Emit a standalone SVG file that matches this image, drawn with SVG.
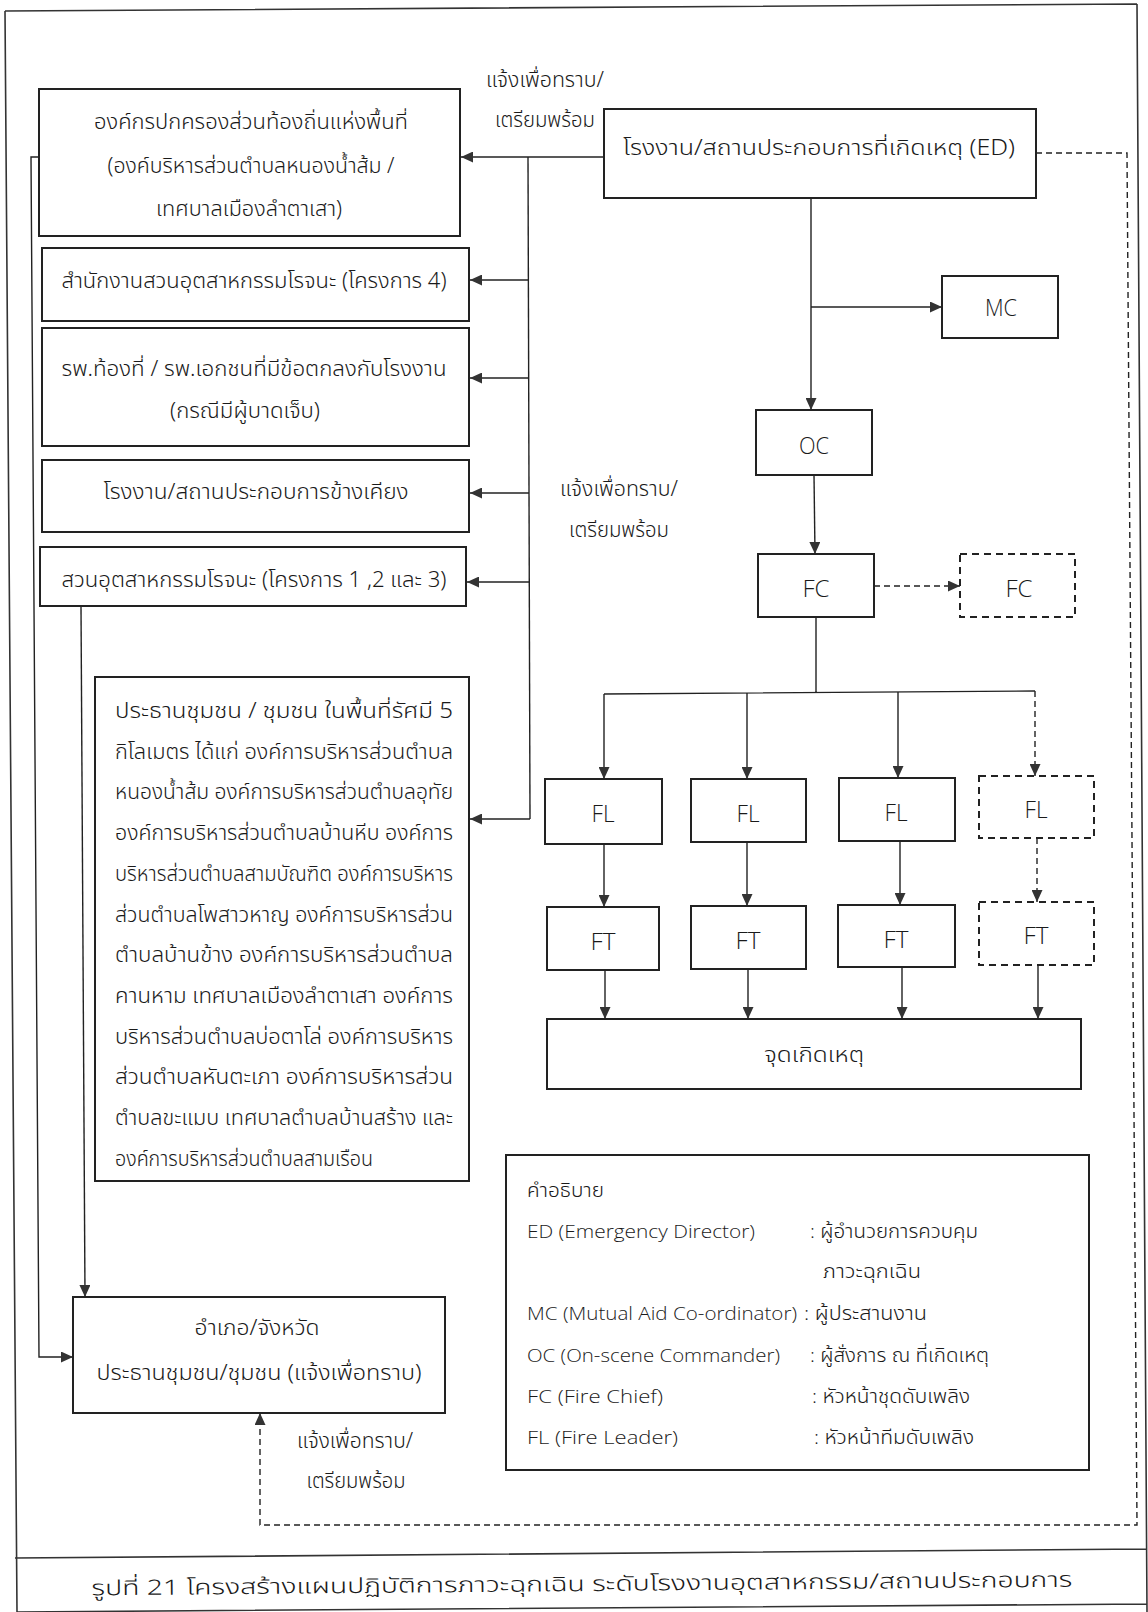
<svg xmlns="http://www.w3.org/2000/svg" width="1148" height="1612" viewBox="0 0 1148 1612">
<style>
.box{fill:#fff;stroke:#222;stroke-width:2}
.dbox{fill:#fff;stroke:#222;stroke-width:2;stroke-dasharray:7 5}
.ln{fill:none;stroke:#222;stroke-width:1.4}
.dl{fill:none;stroke:#222;stroke-width:1.4;stroke-dasharray:6 4}
.fr{fill:none;stroke:#333;stroke-width:1.6}
text{fill:#1a1a1a}
.th{font-family:'Noto Sans Thai','Noto Sans','DejaVu Sans',sans-serif;font-size:21px;font-weight:300}
.lt{font-family:'Open Sans','Noto Sans',sans-serif;font-weight:300;font-size:24px}
.lg{font-family:'Open Sans','Noto Sans Thai','Noto Sans',sans-serif;font-size:19px;font-weight:300}
.c{text-anchor:middle}
</style>
<defs>
<marker id="ah" markerUnits="userSpaceOnUse" markerWidth="13" markerHeight="11" refX="12" refY="5.5" orient="auto">
<path d="M0,0 L12,5.5 L0,11 z" fill="#333"/>
</marker>
</defs>
<rect x="0" y="0" width="1148" height="1612" fill="#fff"/>
<g id="frame">
<path class="fr" d="M5,11 L1137,4 M5,11 L17,1612 M1137,4 L1147,1612 M15,1558 L1147,1549 M17,1612 L1147,1604"/>
<text class="th" x="582" y="1591" text-anchor="middle" font-size="26" textLength="981" lengthAdjust="spacingAndGlyphs" transform="rotate(-0.5 582 1591)">รูปที่ 21 โครงสร้างแผนปฏิบัติการภาวะฉุกเฉิน ระดับโรงงานอุตสาหกรรม/สถานประกอบการ</text>
</g>
<g id="connectors">
<path class="ln" d="M604,157 L461,157" marker-end="url(#ah)"/>
<path class="ln" d="M528,157 L530,819"/>
<path class="ln" d="M528,280 L470,280" marker-end="url(#ah)"/>
<path class="ln" d="M528,378 L470,378" marker-end="url(#ah)"/>
<path class="ln" d="M529,493 L470,493" marker-end="url(#ah)"/>
<path class="ln" d="M529,582 L467,582" marker-end="url(#ah)"/>
<path class="ln" d="M530,819 L470,819" marker-end="url(#ah)"/>
<path class="ln" d="M811,198 L811,410" marker-end="url(#ah)"/>
<path class="ln" d="M811,307 L942,307" marker-end="url(#ah)"/>
<path class="ln" d="M814,475 L815,554" marker-end="url(#ah)"/>
<path class="dl" d="M874,586 L960,586" marker-end="url(#ah)"/>
<path class="ln" d="M816,617 L816,693 M604,694 L1035,691"/>
<path class="ln" d="M604,694 L604,779" marker-end="url(#ah)"/>
<path class="ln" d="M747,693 L747,779" marker-end="url(#ah)"/>
<path class="ln" d="M898,692 L898,778" marker-end="url(#ah)"/>
<path class="dl" d="M1035,691 L1035,776" marker-end="url(#ah)"/>
<path class="ln" d="M604,844 L604,907" marker-end="url(#ah)"/>
<path class="ln" d="M747,842 L747,906" marker-end="url(#ah)"/>
<path class="ln" d="M900,841 L900,905" marker-end="url(#ah)"/>
<path class="dl" d="M1037,838 L1037,902" marker-end="url(#ah)"/>
<path class="ln" d="M605,970 L605,1019" marker-end="url(#ah)"/>
<path class="ln" d="M748,969 L748,1019" marker-end="url(#ah)"/>
<path class="ln" d="M902,967 L902,1019" marker-end="url(#ah)"/>
<path class="ln" d="M1038,965 L1038,1019" marker-end="url(#ah)"/>
<path class="ln" d="M39,157 L31,157 L39,1357 L73,1357" marker-end="url(#ah)"/>
<path class="ln" d="M81,606 L85,1297" marker-end="url(#ah)"/>
<path class="dl" d="M1036,153 L1127,153 L1137,1525 L260,1525 L260,1413" marker-end="url(#ah)"/>
<text class="th" x="545" y="87" text-anchor="middle" textLength="118" lengthAdjust="spacingAndGlyphs">แจ้งเพื่อทราบ/</text>
<text class="th" x="545" y="127" text-anchor="middle" textLength="100" lengthAdjust="spacingAndGlyphs">เตรียมพร้อม</text>
<text class="th" x="619" y="496" text-anchor="middle" textLength="118" lengthAdjust="spacingAndGlyphs">แจ้งเพื่อทราบ/</text>
<text class="th" x="619" y="537" text-anchor="middle" textLength="100" lengthAdjust="spacingAndGlyphs">เตรียมพร้อม</text>
<text class="th" x="355" y="1448" text-anchor="middle" textLength="116" lengthAdjust="spacingAndGlyphs">แจ้งเพื่อทราบ/</text>
<text class="th" x="356" y="1488" text-anchor="middle" textLength="99" lengthAdjust="spacingAndGlyphs">เตรียมพร้อม</text>
</g>
<g id="n-local-gov">
<rect class="box" x="39" y="89" width="421" height="147"/>
<text class="th c" x="251" y="129" textLength="314" lengthAdjust="spacingAndGlyphs">องค์กรปกครองส่วนท้องถิ่นแห่งพื้นที่</text>
<text class="th c" x="251" y="173" textLength="287" lengthAdjust="spacingAndGlyphs">(องค์บริหารส่วนตำบลหนองน้ำส้ม /</text>
<text class="th c" x="249" y="216" textLength="186" lengthAdjust="spacingAndGlyphs">เทศบาลเมืองลำตาเสา)</text>
</g>
<g id="n-rojana-office">
<rect class="box" x="42" y="248" width="427" height="73"/>
<text class="th c" x="254" y="288" textLength="385" lengthAdjust="spacingAndGlyphs">สำนักงานสวนอุตสาหกรรมโรจนะ (โครงการ 4)</text>
</g>
<g id="n-hospital">
<rect class="box" x="42" y="328" width="427" height="118"/>
<text class="th c" x="254" y="376" textLength="385" lengthAdjust="spacingAndGlyphs">รพ.ท้องที่ / รพ.เอกชนที่มีข้อตกลงกับโรงงาน</text>
<text class="th c" x="245" y="418" textLength="150" lengthAdjust="spacingAndGlyphs">(กรณีมีผู้บาดเจ็บ)</text>
</g>
<g id="n-neighbour">
<rect class="box" x="42" y="460" width="427" height="72"/>
<text class="th c" x="256" y="499" textLength="305" lengthAdjust="spacingAndGlyphs">โรงงาน/สถานประกอบการข้างเคียง</text>
</g>
<g id="n-rojana-park">
<rect class="box" x="40" y="547" width="426" height="59"/>
<text class="th c" x="254" y="587" textLength="385" lengthAdjust="spacingAndGlyphs">สวนอุตสาหกรรมโรจนะ (โครงการ 1 ,2 และ 3)</text>
</g>
<g id="n-community">
<rect class="box" x="95" y="677" width="374" height="504"/>
<g class="th">
<text x="115" y="718" textLength="338" lengthAdjust="spacingAndGlyphs">ประธานชุมชน / ชุมชน ในพื้นที่รัศมี 5</text>
<text x="115" y="759" textLength="338" lengthAdjust="spacingAndGlyphs">กิโลเมตร ได้แก่ องค์การบริหารส่วนตำบล</text>
<text x="115" y="799" textLength="338" lengthAdjust="spacingAndGlyphs">หนองน้ำส้ม องค์การบริหารส่วนตำบลอุทัย</text>
<text x="115" y="840" textLength="338" lengthAdjust="spacingAndGlyphs">องค์การบริหารส่วนตำบลบ้านหีบ องค์การ</text>
<text x="115" y="881" textLength="338" lengthAdjust="spacingAndGlyphs">บริหารส่วนตำบลสามบัณฑิต องค์การบริหาร</text>
<text x="115" y="922" textLength="338" lengthAdjust="spacingAndGlyphs">ส่วนตำบลโพสาวหาญ องค์การบริหารส่วน</text>
<text x="115" y="962" textLength="338" lengthAdjust="spacingAndGlyphs">ตำบลบ้านข้าง องค์การบริหารส่วนตำบล</text>
<text x="115" y="1003" textLength="338" lengthAdjust="spacingAndGlyphs">คานหาม เทศบาลเมืองลำตาเสา องค์การ</text>
<text x="115" y="1044" textLength="338" lengthAdjust="spacingAndGlyphs">บริหารส่วนตำบลบ่อตาโล่ องค์การบริหาร</text>
<text x="115" y="1084" textLength="338" lengthAdjust="spacingAndGlyphs">ส่วนตำบลหันตะเภา องค์การบริหารส่วน</text>
<text x="115" y="1125" textLength="338" lengthAdjust="spacingAndGlyphs">ตำบลขะแมบ เทศบาลตำบลบ้านสร้าง และ</text>
<text x="115" y="1166" textLength="258" lengthAdjust="spacingAndGlyphs">องค์การบริหารส่วนตำบลสามเรือน</text>
</g>
</g>
<g id="n-district">
<rect class="box" x="73" y="1297" width="372" height="116"/>
<text class="th c" x="257" y="1335" textLength="125" lengthAdjust="spacingAndGlyphs">อำเภอ/จังหวัด</text>
<text class="th c" x="259" y="1380" textLength="325" lengthAdjust="spacingAndGlyphs">ประธานชุมชน/ชุมชน (แจ้งเพื่อทราบ)</text>
</g>
<g id="n-ed">
<rect class="box" x="604" y="109" width="432" height="89"/>
<text class="th c" x="819" y="155" textLength="392" lengthAdjust="spacingAndGlyphs">โรงงาน/สถานประกอบการที่เกิดเหตุ (ED)</text>
</g>
<g id="n-mc">
<rect class="box" x="942" y="276" width="116" height="62"/>
<text class="lt c" x="1001" y="316" textLength="32" lengthAdjust="spacingAndGlyphs">MC</text>
</g>
<g id="n-oc">
<rect class="box" x="756" y="410" width="116" height="65"/>
<text class="lt c" x="814" y="454" textLength="30" lengthAdjust="spacingAndGlyphs">OC</text>
</g>
<g id="n-fc">
<rect class="box" x="758" y="554" width="116" height="63"/>
<text class="lt c" x="816" y="597" textLength="27" lengthAdjust="spacingAndGlyphs">FC</text>
</g>
<g id="n-fc2">
<rect class="dbox" x="960" y="554" width="115" height="63"/>
<text class="lt c" x="1019" y="597" textLength="27" lengthAdjust="spacingAndGlyphs">FC</text>
</g>
<g id="n-fl1"><rect class="box" x="545" y="779" width="117" height="65"/><text class="lt c" x="603" y="822" textLength="23" lengthAdjust="spacingAndGlyphs">FL</text></g>
<g id="n-fl2"><rect class="box" x="691" y="779" width="115" height="63"/><text class="lt c" x="748" y="822" textLength="23" lengthAdjust="spacingAndGlyphs">FL</text></g>
<g id="n-fl3"><rect class="box" x="839" y="778" width="116" height="63"/><text class="lt c" x="896" y="821" textLength="23" lengthAdjust="spacingAndGlyphs">FL</text></g>
<g id="n-fl4"><rect class="dbox" x="979" y="776" width="115" height="62"/><text class="lt c" x="1036" y="818" textLength="23" lengthAdjust="spacingAndGlyphs">FL</text></g>
<g id="n-ft1"><rect class="box" x="547" y="907" width="112" height="63"/><text class="lt c" x="603" y="950" textLength="25" lengthAdjust="spacingAndGlyphs">FT</text></g>
<g id="n-ft2"><rect class="box" x="691" y="906" width="115" height="63"/><text class="lt c" x="748" y="949" textLength="25" lengthAdjust="spacingAndGlyphs">FT</text></g>
<g id="n-ft3"><rect class="box" x="838" y="905" width="117" height="62"/><text class="lt c" x="896" y="948" textLength="25" lengthAdjust="spacingAndGlyphs">FT</text></g>
<g id="n-ft4"><rect class="dbox" x="979" y="902" width="115" height="63"/><text class="lt c" x="1036" y="944" textLength="25" lengthAdjust="spacingAndGlyphs">FT</text></g>
<g id="n-incident">
<rect class="box" x="547" y="1019" width="534" height="70"/>
<text class="th c" x="814" y="1062" textLength="100" lengthAdjust="spacingAndGlyphs">จุดเกิดเหตุ</text>
</g>
<g id="legend">
<rect class="box" x="506" y="1155" width="583" height="315"/>
<g class="lg">
<text x="527" y="1197" textLength="77" lengthAdjust="spacingAndGlyphs">คำอธิบาย</text>
<text x="527" y="1238" textLength="228" lengthAdjust="spacingAndGlyphs">ED  (Emergency Director)</text>
<text x="810" y="1238" textLength="168" lengthAdjust="spacingAndGlyphs">: ผู้อำนวยการควบคุม</text>
<text x="823" y="1278" textLength="98" lengthAdjust="spacingAndGlyphs">ภาวะฉุกเฉิน</text>
<text x="527" y="1320" textLength="270" lengthAdjust="spacingAndGlyphs">MC (Mutual Aid Co-ordinator)</text>
<text x="804" y="1320" textLength="123" lengthAdjust="spacingAndGlyphs">: ผู้ประสานงาน</text>
<text x="527" y="1362" textLength="253" lengthAdjust="spacingAndGlyphs">OC (On-scene Commander)</text>
<text x="810" y="1362" textLength="179" lengthAdjust="spacingAndGlyphs">: ผู้สั่งการ ณ ที่เกิดเหตุ</text>
<text x="527" y="1403" textLength="136" lengthAdjust="spacingAndGlyphs">FC  (Fire Chief)</text>
<text x="812" y="1403" textLength="158" lengthAdjust="spacingAndGlyphs">: หัวหน้าชุดดับเพลิง</text>
<text x="527" y="1444" textLength="151" lengthAdjust="spacingAndGlyphs">FL  (Fire Leader)</text>
<text x="814" y="1444" textLength="160" lengthAdjust="spacingAndGlyphs">: หัวหน้าทีมดับเพลิง</text>
</g>
</g>
</svg>
